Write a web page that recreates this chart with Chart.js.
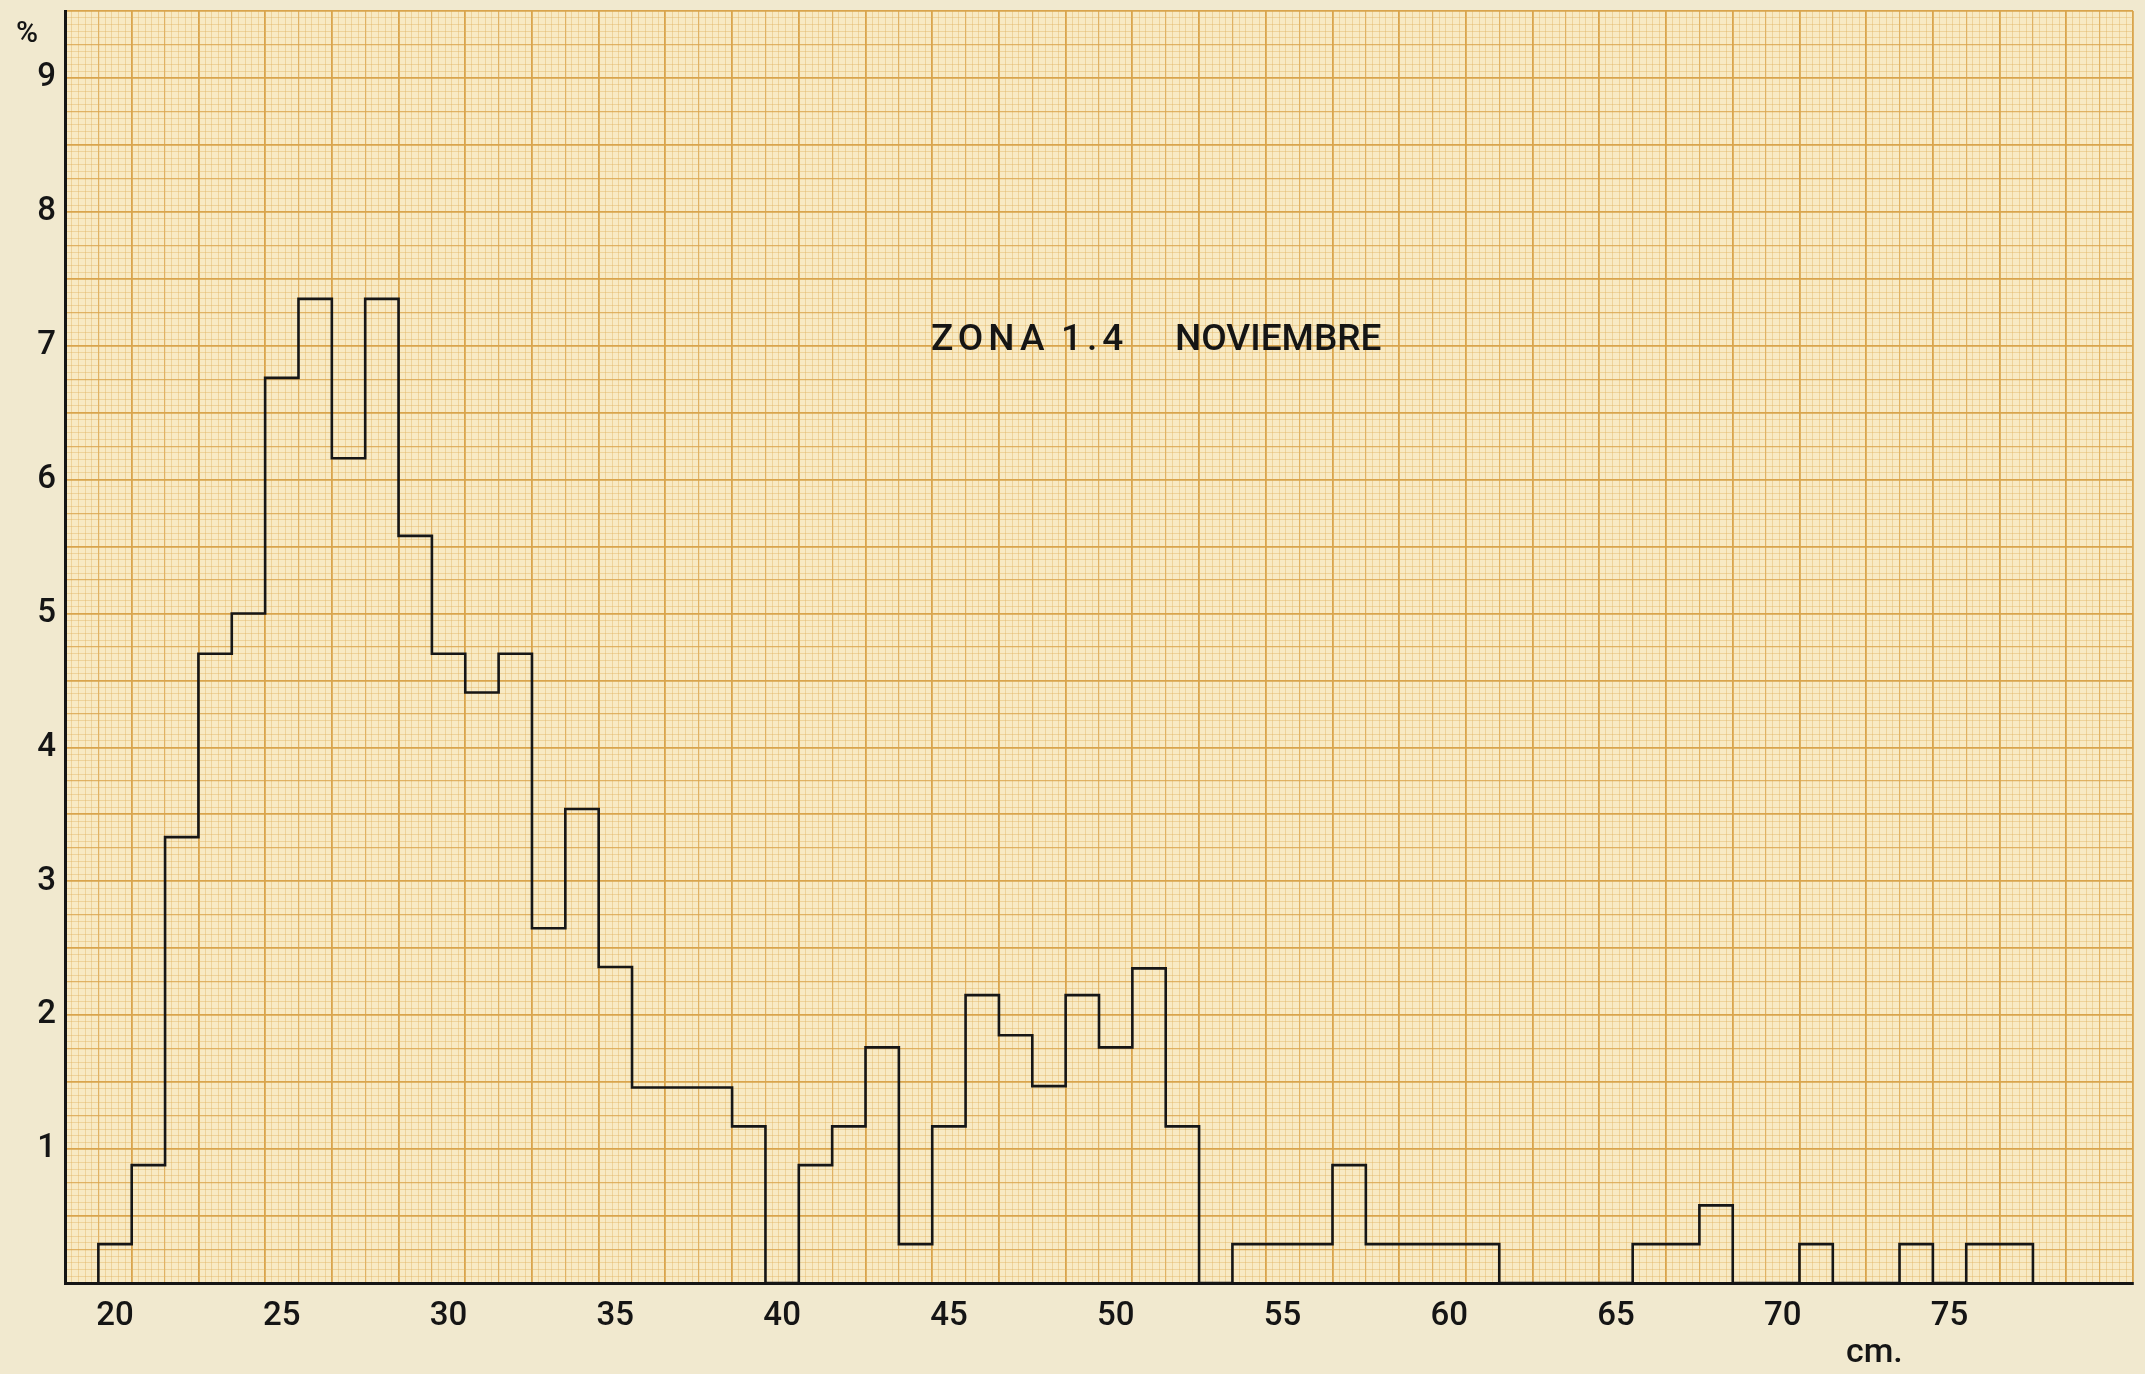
<!DOCTYPE html>
<html>
<head>
<meta charset="utf-8">
<title>Zona 1.4 Noviembre</title>
<script src="https://cdn.jsdelivr.net/npm/chart.js@4.4.1/dist/chart.umd.min.js"></script>
<style>
  html, body { margin: 0; padding: 0; background: #f1e9cf; }
  #wrap { width: 2145px; height: 1374px; }
</style>
</head>
<body>
<div id="wrap"><canvas id="histograma" width="2145" height="1374"></canvas></div>
<script>
// talla (cm), centro de cada clase de 1 cm
const tallas = [
  20, 21, 22, 23, 24, 25, 26, 27, 28, 29,
  30, 31, 32, 33, 34, 35, 36, 37, 38, 39,
  40, 41, 42, 43, 44, 45, 46, 47, 48, 49,
  50, 51, 52, 53, 54, 55, 56, 57, 58, 59,
  60, 61, 62, 63, 64, 65, 66, 67, 68, 69,
  70, 71, 72, 73, 74, 75, 76, 77
];
// % de individuos en cada clase
const porcentaje = [
  0.29, 0.88, 3.33, 4.70, 5.00, 6.76, 7.35, 6.16, 7.35, 5.58,
  4.70, 4.41, 4.70, 2.65, 3.54, 2.36, 1.46, 1.46, 1.46, 1.17,
  0, 0.88, 1.17, 1.76, 0.29, 1.17, 2.15, 1.85, 1.47, 2.15,
  1.76, 2.35, 1.17, 0, 0.29, 0.29, 0.29, 0.88, 0.29, 0.29,
  0.29, 0.29, 0, 0, 0, 0, 0.29, 0.29, 0.58, 0,
  0, 0.29, 0, 0, 0.29, 0, 0.29, 0.29
];
const etiquetasX = [20, 25, 30, 35, 40, 45, 50, 55, 60, 65, 70, 75];
const etiquetasY = [1, 2, 3, 4, 5, 6, 7, 8, 9];

const X_MIN = 18.5, X_MAX = 80.5, Y_MIN = 0, Y_MAX = 9.5;

// contorno escalonado del histograma
const contorno = [{ x: tallas[0] - 0.5, y: 0 }];
tallas.forEach((t, i) => contorno.push({ x: t - 0.5, y: porcentaje[i] }));
contorno.push({ x: tallas[tallas.length - 1] + 0.5, y: 0 });

// papel milimetrado: 1 mm = 0.2 cm en x, 0.05 % en y
function ticksPapelX() {
  const t = [];
  for (let i = 0; i <= Math.round((X_MAX - X_MIN) * 5); i++) {
    t.push({ value: X_MIN + i / 5, kind: i % 10 === 0 ? "major" : i % 5 === 0 ? "mid" : "minor" });
  }
  etiquetasX.forEach(v => t.push({ value: v, kind: "label" }));
  return t.sort((a, b) => a.value - b.value);
}
function ticksPapelY() {
  const t = [];
  for (let i = 0; i <= Math.round(Y_MAX * 20); i++) {
    t.push({ value: i / 20, kind: i % 10 === 0 ? "major" : i % 5 === 0 ? "mid" : "minor" });
  }
  return t;
}

const colorLinea = { major: "#d9a44c", mid: "rgba(218,164,76,0.8)", minor: "rgba(224,178,98,0.42)", label: "rgba(0,0,0,0)" };
const anchoLinea = { major: 1.8, mid: 1.2, minor: 1, label: 1 };

const papel = {
  id: "papel",
  beforeDraw(chart) {
    const { ctx, chartArea: a } = chart;
    ctx.save();
    ctx.fillStyle = "#f1e9cf";
    ctx.fillRect(0, 0, chart.width, chart.height);
    ctx.fillStyle = "#f8eac4";
    ctx.fillRect(a.left, a.top, a.right - a.left, a.bottom - a.top);
    ctx.restore();
  },
  afterDraw(chart) {
    const { ctx } = chart;
    ctx.save();
    ctx.fillStyle = "#151515";
    ctx.textBaseline = "alphabetic";
    ctx.textAlign = "left";
    ctx.font = "500 37px Roboto";
    ctx.letterSpacing = "5px";
    ctx.fillText("ZONA", 931, 350);
    ctx.fillText("1.4", 1061, 350);
    ctx.letterSpacing = "0px";
    ctx.fillText("NOVIEMBRE", 1175, 350);
    ctx.font = "500 30px Roboto";
    ctx.fillText("%", 16, 42);
    ctx.font = "500 34px Roboto";
    ctx.fillText("cm.", 1846, 1362);
    ctx.restore();
  }
};

new Chart(document.getElementById("histograma"), {
  type: "line",
  data: {
    datasets: [{
      label: "%",
      data: contorno,
      stepped: "before",
      borderColor: "#161616",
      borderWidth: 2.6,
      pointRadius: 0,
      fill: false
    }]
  },
  options: {
    responsive: false,
    animation: false,
    layout: { padding: { top: 11, right: 12, left: 0, bottom: 0 } },
    plugins: { legend: { display: false }, tooltip: { enabled: false } },
    scales: {
      x: {
        type: "linear",
        min: X_MIN,
        max: X_MAX,
        afterBuildTicks: (s) => { s.ticks = ticksPapelX(); },
        afterFit: (s) => { s.height = 91; s.paddingLeft = 0; s.paddingRight = 0; },
        grid: {
          drawTicks: false,
          color: (c) => colorLinea[c.tick.kind],
          lineWidth: (c) => anchoLinea[c.tick.kind]
        },
        border: { display: true, color: "#151515", width: 3 },
        ticks: {
          autoSkip: false,
          maxRotation: 0,
          padding: 14,
          color: "#151515",
          font: { family: "Roboto", size: 33, weight: "500" },
          callback: (v) => etiquetasX.includes(v) ? String(v) : ""
        }
      },
      y: {
        type: "linear",
        min: Y_MIN,
        max: Y_MAX,
        afterBuildTicks: (s) => { s.ticks = ticksPapelY(); },
        afterFit: (s) => { s.width = 65; s.paddingTop = 0; s.paddingBottom = 0; },
        grid: {
          drawTicks: false,
          color: (c) => colorLinea[c.tick.kind],
          lineWidth: (c) => anchoLinea[c.tick.kind]
        },
        border: { display: true, color: "#151515", width: 3 },
        ticks: {
          autoSkip: false,
          padding: 9,
          color: "#151515",
          font: { family: "Roboto", size: 33, weight: "500" },
          callback: (v) => etiquetasY.includes(v) ? String(v) : ""
        }
      }
    }
  },
  plugins: [papel]
});
</script>
</body>
</html>
